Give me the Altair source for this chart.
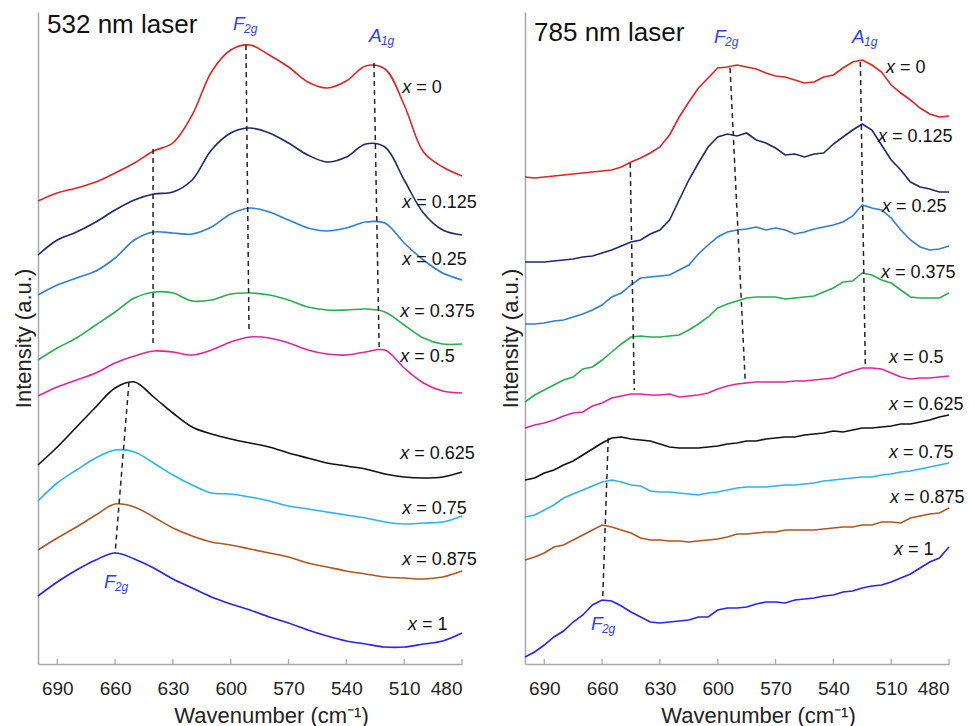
import altair as alt
import pandas as pd

FONT = "Liberation Sans"

# ---------------- data ----------------
COMPS = ["0", "0.125", "0.25", "0.375", "0.5", "0.625", "0.75", "0.875", "1"]
COLORS = ["#e32222", "#1c2a6b", "#2d7fd2", "#22b14c", "#e6239a",
          "#111111", "#27b5ef", "#b5541c", "#2424f5"]

WN_LEFT = [700, 690, 680, 670, 660, 650, 640, 630, 620, 610, 600, 590,
           580, 570, 560, 550, 540, 530, 520, 510, 500, 490, 480]

L_0 = [463, 471, 476, 482, 491, 501, 513, 521, 549, 592, 614, 619, 609, 597, 582, 576, 583, 598, 595, 559, 512, 497, 488]
L_0125 = [409, 424, 432, 442, 454, 464, 470, 472, 484, 514, 531, 536, 531, 521, 509, 502, 507, 520, 517, 484, 451, 434, 429]
L_025 = [369, 379, 386, 393, 406, 424, 432, 431, 430, 437, 450, 456, 452, 444, 436, 433, 436, 442, 441, 421, 404, 391, 384]
L_0375 = [304, 316, 326, 339, 352, 366, 372, 371, 363, 364, 370, 371, 369, 364, 357, 354, 354, 355, 352, 339, 326, 320, 320]
L_05 = [268, 277, 284, 291, 301, 308, 313, 312, 309, 314, 322, 327, 326, 321, 314, 310, 309, 312, 314, 296, 281, 273, 271]
L_0625 = [199, 217, 237, 257, 276, 282, 267, 251, 237, 230, 225, 221, 217, 211, 206, 201, 198, 195, 190, 187, 186, 187, 192]
L_075 = [163, 181, 194, 206, 214, 212, 201, 189, 179, 171, 170, 167, 163, 158, 155, 152, 149, 146, 142, 140, 141, 142, 148]
L_0875 = [114, 126, 137, 149, 160, 157, 147, 136, 128, 122, 119, 115, 111, 107, 101, 97, 93, 90, 87, 86, 85, 87, 93]
L_1 = [68, 82, 94, 104, 111, 105, 96, 85, 76, 67, 60, 54, 47, 41, 34, 28, 23, 20, 17, 17, 20, 23, 31]

WN_RIGHT = [700, 695, 690, 685, 680, 675, 670, 665, 660, 655, 650, 645, 640, 635,
            630, 625, 620, 615, 610, 605, 600, 595, 590, 585, 580, 575, 570, 565,
            560, 555, 550, 545, 540, 535, 530, 525, 520, 515, 510, 505, 500, 495,
            490, 485, 480]

R_0 = [487, 486, 487, 488, 489, 490, 491, 492, 493, 494, 497, 502, 506, 511, 517, 529, 547, 562, 576, 586, 596, 597, 599, 597, 595, 591, 588, 587, 584, 581, 582, 587, 589, 596, 602, 604, 599, 592, 579, 571, 564, 556, 550, 547, 548]
R_0125 = [402, 402, 402, 403, 404, 405, 407, 408, 411, 414, 418, 422, 424, 430, 434, 444, 464, 484, 501, 517, 527, 530, 528, 531, 524, 521, 516, 509, 510, 507, 510, 511, 520, 527, 534, 540, 534, 519, 504, 494, 482, 477, 475, 472, 472]
R_025 = [340, 340, 341, 343, 344, 347, 350, 354, 359, 367, 371, 379, 386, 387, 388, 389, 394, 399, 410, 419, 427, 432, 434, 435, 437, 434, 436, 434, 430, 432, 435, 437, 439, 442, 448, 459, 456, 454, 446, 434, 424, 417, 414, 415, 418]
R_0375 = [262, 269, 274, 279, 284, 287, 295, 297, 304, 312, 320, 327, 328, 327, 327, 328, 329, 334, 340, 347, 356, 360, 363, 366, 367, 367, 367, 365, 366, 367, 368, 372, 376, 382, 383, 391, 389, 384, 381, 374, 367, 366, 366, 366, 371]
R_05 = [236, 239, 241, 244, 248, 251, 252, 258, 261, 266, 268, 270, 270, 269, 269, 270, 267, 268, 269, 271, 275, 278, 280, 281, 282, 282, 282, 282, 283, 283, 284, 285, 286, 290, 293, 296, 296, 295, 291, 287, 285, 286, 286, 287, 288]
R_0625 = [184, 186, 191, 194, 199, 203, 209, 215, 221, 226, 227, 225, 224, 223, 220, 217, 216, 216, 216, 217, 218, 220, 221, 223, 223, 225, 226, 227, 227, 229, 230, 231, 233, 232, 234, 236, 236, 237, 238, 240, 240, 242, 244, 247, 249]
R_075 = [147, 149, 154, 159, 166, 170, 174, 178, 182, 184, 182, 179, 178, 173, 172, 172, 171, 170, 169, 171, 172, 174, 176, 177, 177, 177, 178, 179, 179, 180, 181, 183, 184, 185, 186, 187, 187, 189, 190, 192, 193, 195, 197, 199, 201]
R_0875 = [104, 107, 111, 117, 119, 124, 129, 134, 139, 137, 134, 131, 126, 124, 124, 123, 123, 122, 123, 124, 125, 127, 130, 130, 131, 132, 132, 134, 134, 134, 134, 135, 136, 137, 137, 139, 139, 142, 142, 141, 146, 148, 150, 151, 156]
R_1 = [7, 12, 19, 27, 33, 42, 49, 59, 64, 63, 58, 52, 47, 42, 41, 42, 43, 44, 47, 47, 54, 56, 56, 57, 60, 62, 62, 61, 64, 65, 66, 68, 69, 72, 73, 76, 78, 79, 82, 86, 90, 96, 102, 106, 117]

LEFT_SPECTRA = [L_0, L_0125, L_025, L_0375, L_05, L_0625, L_075, L_0875, L_1]
RIGHT_SPECTRA = [R_0, R_0125, R_025, R_0375, R_05, R_0625, R_075, R_0875, R_1]

# dashed peak guides (top point -> bottom point)
L_PK_WN1 = [640.3, 592.1, 525.7, 652.8]
L_PK_I1 = [515, 619, 601, 282]
L_PK_WN2 = [640.3, 590.5, 523.0, 660.0]
L_PK_I2 = [318, 331, 317, 111]
R_PK_WN1 = [645.4, 593.6, 526.0, 656.8]
R_PK_I1 = [501, 596, 602, 226]
R_PK_WN2 = [643.3, 585.7, 523.4, 659.7]
R_PK_I2 = [274, 281, 296, 65]

# composition label anchors
L_LAB_WN = [511, 511, 511, 512, 512, 512, 511, 511, 508]
L_LAB_I = [576, 461, 404, 352, 307, 210, 155, 104, 39]
R_LAB_WN = [512.7, 516.8, 514.8, 515.3, 511.1, 511.1, 511.1, 510.6, 508.5]
R_LAB_I = [596, 527, 457, 391, 306, 259, 211, 166, 114]

# mode labels
L_MODE_LETTER = ["F", "A", "F"]
L_MODE_WN = [598.8, 528.3, 665.8]
L_MODE_I = [634, 622, 76]
R_MODE_LETTER = ["F", "A", "F"]
R_MODE_WN = [601.9, 530.3, 665.8]
R_MODE_I = [621, 621, 34]

PANEL_TITLES = ["532 nm laser", "785 nm laser"]
TITLE_WN = [695.3, 695.3]
TITLE_I = [631, 623]

TICKS = [690, 660, 630, 600, 570, 540, 510, 480]

W, H = 424, 652
LABEL_BLUE = "#2f3dff"
AXIS_GREY = "#a8a8a8"


def panel(wn, spectra, pk, lab_wn, lab_i, mode_letter, mode_wn, mode_i,
          title, title_wn, title_i, interp):
    rows = []
    for comp, vals in zip(COMPS, spectra):
        for w_, v in zip(wn, vals):
            rows.append({"wn": w_, "intensity": v, "comp": comp})
    df = pd.DataFrame(rows)

    xs = alt.Scale(domain=[700, 480], nice=False, zero=False)
    ys = alt.Scale(domain=[0, 652], nice=False, zero=False)
    X = lambda f: alt.X(f, scale=xs)
    Y = lambda f: alt.Y(f, scale=ys)

    lines = alt.Chart(df).mark_line(strokeWidth=1.6, interpolate=interp).encode(
        x=alt.X("wn:Q", scale=xs,
                axis=alt.Axis(values=TICKS, ticks=False, grid=False, labelPadding=15,
                              labelFontSize=19, labelFont=FONT, labelColor="#222",
                              domainColor=AXIS_GREY, domainWidth=1.5,
                              title="Wavenumber (cm⁻¹)", titleFont=FONT,
                              titleFontSize=22, titleFontWeight="normal",
                              titleColor="#222", titleX=233, titleY=58,
                              titleBaseline="alphabetic")),
        y=alt.Y("intensity:Q", scale=ys,
                axis=alt.Axis(labels=False, ticks=False, grid=False,
                              domainColor=AXIS_GREY, domainWidth=1.5,
                              title="Intensity (a.u.)", titleFont=FONT,
                              titleFontSize=22, titleFontWeight="normal",
                              titleColor="#222", titlePadding=3)),
        color=alt.Color("comp:N", scale=alt.Scale(domain=COMPS, range=COLORS), legend=None),
        order=alt.Order("wn:Q", sort="descending"),
    )

    ticks = alt.Chart(pd.DataFrame({"wn": TICKS})).mark_rule(
        color=AXIS_GREY, strokeWidth=1.3).encode(
        x=X("wn:Q"), y=alt.value(H - 5), y2=alt.value(H))

    pk_df = pd.DataFrame({"wn": pk[0], "intensity": pk[1], "w2": pk[2], "i2": pk[3]})
    peaks = alt.Chart(pk_df).mark_rule(color="#222", strokeWidth=1.5,
                                       strokeDash=[5, 4]).encode(
        x=X("wn:Q"), x2="w2:Q", y=Y("intensity:Q"), y2="i2:Q")

    lab_df = pd.DataFrame({"wn": lab_wn, "intensity": lab_i,
                           "eq": ["= " + c for c in COMPS]})
    lab_x = alt.Chart(lab_df).mark_text(text="x", fontStyle="italic", font=FONT,
                                        fontSize=18, align="left", baseline="middle",
                                        color="#111").encode(
        x=X("wn:Q"), y=Y("intensity:Q"))
    lab_eq = alt.Chart(lab_df).mark_text(font=FONT, fontSize=18, align="left",
                                         baseline="middle", dx=14,
                                         color="#111").encode(
        x=X("wn:Q"), y=Y("intensity:Q"), text="eq:N")

    mode_df = pd.DataFrame({"wn": mode_wn, "intensity": mode_i, "letter": mode_letter})
    mode_main = alt.Chart(mode_df).mark_text(font=FONT, fontSize=19, fontStyle="italic",
                                             align="left", baseline="alphabetic",
                                             color=LABEL_BLUE).encode(
        x=X("wn:Q"), y=Y("intensity:Q"), text="letter:N")
    mode_sub_f = alt.Chart(mode_df).transform_filter(alt.datum.letter == "F").mark_text(
        text="2g", font=FONT, fontSize=12, fontStyle="italic", align="left",
        baseline="alphabetic", dx=11, dy=3, color=LABEL_BLUE).encode(
        x=X("wn:Q"), y=Y("intensity:Q"))
    mode_sub_a = alt.Chart(mode_df).transform_filter(alt.datum.letter == "A").mark_text(
        text="1g", font=FONT, fontSize=12, fontStyle="italic", align="left",
        baseline="alphabetic", dx=12, dy=3, color=LABEL_BLUE).encode(
        x=X("wn:Q"), y=Y("intensity:Q"))

    t_df = pd.DataFrame({"wn": [title_wn], "intensity": [title_i], "t": [title]})
    ttl = alt.Chart(t_df).mark_text(font=FONT, fontSize=26, align="left",
                                    baseline="alphabetic", color="#111").encode(
        x=X("wn:Q"), y=Y("intensity:Q"), text="t:N")

    return alt.layer(lines, ticks, peaks, lab_x, lab_eq, mode_main, mode_sub_f,
                     mode_sub_a, ttl).properties(width=W, height=H)


left = panel(WN_LEFT, LEFT_SPECTRA, (L_PK_WN1, L_PK_I1, L_PK_WN2, L_PK_I2),
             L_LAB_WN, L_LAB_I, L_MODE_LETTER, L_MODE_WN, L_MODE_I,
             PANEL_TITLES[0], TITLE_WN[0], TITLE_I[0], "catmull-rom")
right = panel(WN_RIGHT, RIGHT_SPECTRA, (R_PK_WN1, R_PK_I1, R_PK_WN2, R_PK_I2),
              R_LAB_WN, R_LAB_I, R_MODE_LETTER, R_MODE_WN, R_MODE_I,
              PANEL_TITLES[1], TITLE_WN[1], TITLE_I[1], "linear")

chart = alt.hconcat(left, right, spacing=63, bounds="flush").properties(
    padding={"left": 12, "top": 12, "right": 0, "bottom": 0},
    background="white",
).configure_view(stroke=None)

chart.save("out.html", embed_options={"renderer": "svg", "actions": False})
